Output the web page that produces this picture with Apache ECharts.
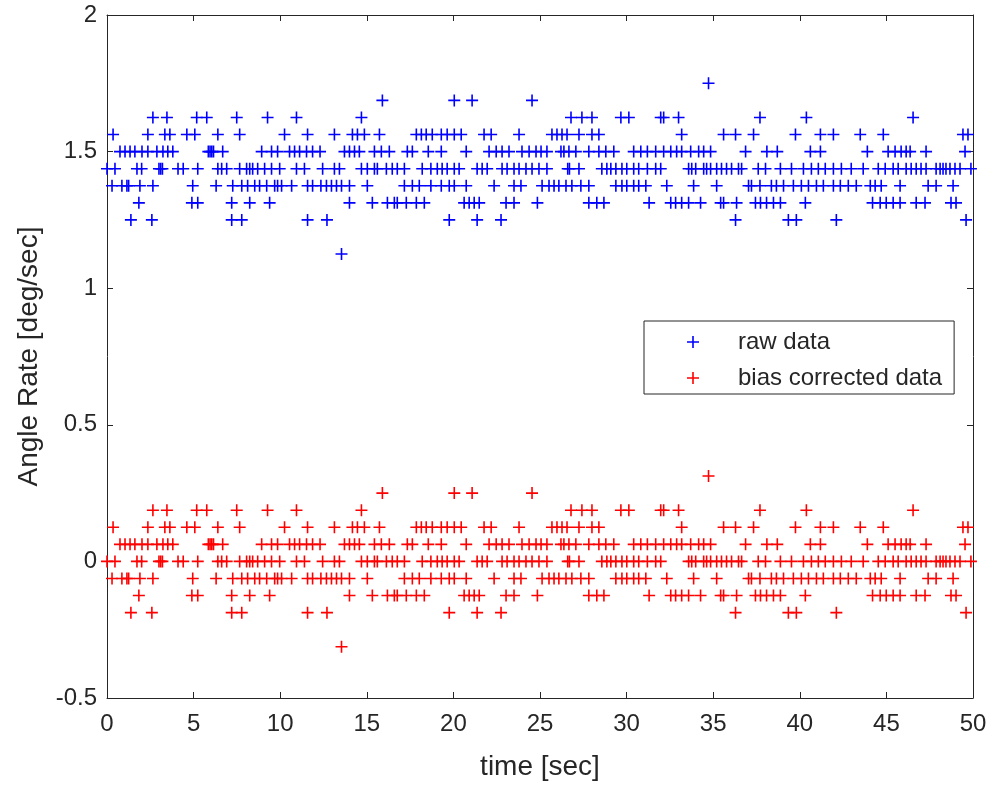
<!DOCTYPE html>
<html>
<head>
<meta charset="utf-8">
<title>Angle rate: raw vs bias corrected</title>
<script src="https://cdn.jsdelivr.net/npm/echarts@6/dist/echarts.min.js"></script>
<style>
  html, body { margin: 0; padding: 0; background: #ffffff; }
  #chart { width: 992px; height: 786px; }
</style>
</head>
<body>
<div id="chart"></div>
<script>
// Gyro angle-rate samples (deg/sec), grouped by quantisation level.
// Each array lists the sample times (sec) at which the raw reading took that level.
const t1750 = [34.73];
const t1688 = [15.9, 20.05, 21.08, 24.54];
const t1625 = [2.65, 3.46, 5.18, 5.76, 7.49, 9.27, 10.94, 14.69, 26.79, 27.42, 28.0, 29.67, 30.13,
  31.97, 32.14, 33.0, 37.7, 40.38, 46.54];
const t1563 = [0.35, 2.36, 3.34, 3.63, 4.61, 5.07, 6.4, 7.66, 10.25, 11.58, 13.13, 14.17, 14.46, 14.86,
  15.73, 17.86, 18.15, 18.43, 18.78, 19.3, 19.64, 20.05, 20.45, 21.77, 22.18, 23.79, 25.69, 25.98,
  26.27, 26.56, 27.25, 28.0, 28.4, 33.18, 35.6, 36.29, 37.33, 39.75, 41.19, 41.94, 43.49, 44.82,
  49.42, 49.71];
const t1500 = [0.75, 1.04, 1.33, 1.61, 2.02, 2.36, 2.88, 3.23, 3.51, 3.8, 5.85, 5.95, 6.05, 6.15, 6.68,
  8.93, 9.5, 9.85, 10.54, 10.83, 11.12, 11.52, 11.87, 12.3, 13.71, 14.0, 14.29, 14.57, 15.44, 15.84,
  16.3, 17.34, 17.63, 18.55, 19.3, 20.74, 22.06, 22.47, 22.81, 23.21, 23.96, 24.37, 24.77, 25.06,
  25.4, 26.21, 26.38, 26.67, 27.07, 27.82, 28.4, 28.8, 29.26, 30.41, 30.82, 31.2, 31.68, 32.14,
  32.55, 32.89, 33.18, 33.7, 34.16, 34.45, 34.85, 36.87, 38.1, 38.7, 40.61, 41.19, 43.9, 45.1, 45.5,
  45.85, 46.14, 46.37, 47.29, 49.54];
const t1438 = [0.0, 0.46, 1.73, 2.0, 3.0, 3.1, 3.2, 4.1, 4.4, 5.24, 6.4, 6.62, 6.91, 7.66, 8.06, 8.24,
  8.41, 8.7, 9.1, 9.5, 9.97, 10.94, 11.4, 12.45, 13.13, 13.42, 14.69, 15.03, 15.44, 15.61, 16.13,
  16.47, 16.76, 17.17, 18.2, 18.7, 19.07, 19.35, 19.64, 20.05, 20.33, 21.37, 21.66, 21.95, 22.81,
  23.1, 23.5, 23.79, 24.19, 24.54, 24.94, 25.4, 26.6, 26.7, 27.25, 28.57, 28.86, 29.09, 29.38,
  29.73, 30.01, 30.41, 30.7, 31.2, 31.68, 31.97, 33.58, 33.76, 33.99, 34.45, 34.62, 34.85, 35.2,
  35.48, 35.77, 36.06, 36.46, 36.64, 37.6, 38.02, 38.88, 39.52, 40.21, 40.67, 41.07, 41.47, 41.94,
  42.4, 42.97, 43.66, 44.53, 44.93, 45.39, 45.68, 46.14, 46.43, 46.72, 47.0, 47.29, 47.87, 48.1,
  48.27, 48.44, 48.67, 48.96, 49.25, 49.88];
const t1375 = [0.29, 0.86, 1.15, 1.25, 1.9, 2.65, 4.95, 6.3, 7.26, 7.78, 8.12, 8.53, 8.81, 9.22, 9.68,
  9.85, 10.08, 10.66, 11.58, 11.87, 12.35, 12.67, 12.96, 13.25, 13.54, 14.0, 15.03, 17.17, 17.63,
  18.03, 18.7, 19.3, 19.76, 20.05, 20.74, 22.35, 23.5, 23.9, 25.12, 25.52, 25.81, 26.09, 26.5,
  26.84, 27.36, 27.82, 29.38, 29.73, 30.01, 30.41, 30.7, 31.11, 32.32, 33.87, 35.2, 37.04, 37.21,
  37.7, 38.36, 38.65, 39.06, 39.63, 40.09, 40.5, 40.96, 41.36, 41.94, 42.34, 42.8, 43.26, 44.07,
  44.35, 44.7, 45.79, 47.41, 47.87, 48.85];
const t1313 = [1.84, 4.9, 5.24, 7.2, 8.24, 9.39, 14.0, 15.32, 16.19, 16.59, 16.76, 17.28, 17.86, 18.32,
  20.62, 20.91, 21.2, 21.49, 23.04, 23.5, 24.85, 27.82, 28.28, 28.69, 31.3, 32.55, 32.83, 33.18,
  33.58, 34.27, 35.43, 35.6, 36.35, 37.44, 37.73, 38.08, 38.48, 38.88, 40.32, 44.2, 44.64, 44.99,
  45.39, 45.79, 46.72, 47.23, 48.73, 49.02];
const t1250 = [1.38, 2.59, 7.2, 7.78, 11.58, 12.7, 19.76, 21.37, 22.75, 36.29, 39.34, 39.8, 42.11, 49.6];
const t1125 = [13.54];

const rawLevels = [1.75, 1.6875, 1.625, 1.5625, 1.5, 1.4375, 1.375, 1.3125, 1.25, 1.125];
const levelTimes = [t1750, t1688, t1625, t1563, t1500, t1438, t1375, t1313, t1250, t1125];

// Estimated gyro bias (deg/sec) removed from the raw readings
const bias = 1.4375;

const xTicks = { min: 0, max: 50, interval: 5 };
const yTicks = { min: -0.5, max: 2, interval: 0.5 };

const rawData = [];
rawLevels.forEach((v, i) => levelTimes[i].forEach(t => rawData.push([t, v])));
rawData.sort((a, b) => a[0] - b[0]);
const correctedData = rawData.map(([t, v]) => [t, v - bias]);

const plus = 'path://M0,5.2H12V6.8H0Z M5.2,0H6.8V12H5.2Z';
const axisColor = '#262626';
const font = '"Liberation Sans", Arial, Helvetica, sans-serif';

const chart = echarts.init(document.getElementById('chart'), null, { renderer: 'canvas' });

const baseAxis = {
  axisLine: { show: true, onZero: false, lineStyle: { color: axisColor, width: 1 } },
  axisTick: { show: true, inside: true, length: 6, lineStyle: { color: axisColor } },
  splitLine: { show: false },
  axisLabel: { color: axisColor, fontFamily: font, fontSize: 24 }
};

chart.setOption({
  backgroundColor: '#ffffff',
  animation: false,
  grid: { left: 107, right: 19, top: 15, bottom: 87, containLabel: false },
  xAxis: [
    Object.assign({}, baseAxis, {
      type: 'value', position: 'bottom', ...xTicks,
      name: 'time [sec]', nameLocation: 'middle', nameGap: 55,
      nameTextStyle: { color: axisColor, fontFamily: font, fontSize: 28 },
      axisLabel: Object.assign({}, baseAxis.axisLabel, { margin: 14 })
    }),
    Object.assign({}, baseAxis, {
      type: 'value', position: 'top', ...xTicks,
      axisLabel: { show: false }
    })
  ],
  yAxis: [
    Object.assign({}, baseAxis, {
      type: 'value', position: 'left', ...yTicks,
      name: 'Angle Rate [deg/sec]', nameLocation: 'middle', nameGap: 64,
      nameTextStyle: { color: axisColor, fontFamily: font, fontSize: 28 },
      axisLabel: Object.assign({}, baseAxis.axisLabel, { margin: 10 })
    }),
    Object.assign({}, baseAxis, {
      type: 'value', position: 'right', ...yTicks,
      axisLabel: { show: false }
    })
  ],
  legend: {
    orient: 'vertical',
    left: 644, top: 321,
    padding: [9, 12, 4, 43],
    itemWidth: 12, itemHeight: 12, itemGap: 12,
    backgroundColor: '#ffffff',
    borderColor: axisColor, borderWidth: 1,
    textStyle: { color: axisColor, fontFamily: font, fontSize: 24, lineHeight: 24, padding: [0, 0, 0, 34] },
    data: [
      { name: 'raw data', icon: plus },
      { name: 'bias corrected data', icon: plus }
    ]
  },
  series: [
    {
      name: 'raw data', type: 'scatter', data: rawData,
      symbol: plus, symbolSize: 12, clip: false,
      itemStyle: { color: '#0000ff', opacity: 1 }
    },
    {
      name: 'bias corrected data', type: 'scatter', data: correctedData,
      symbol: plus, symbolSize: 12, clip: false,
      itemStyle: { color: '#ff0000', opacity: 1 }
    }
  ]
});
</script>
</body>
</html>
